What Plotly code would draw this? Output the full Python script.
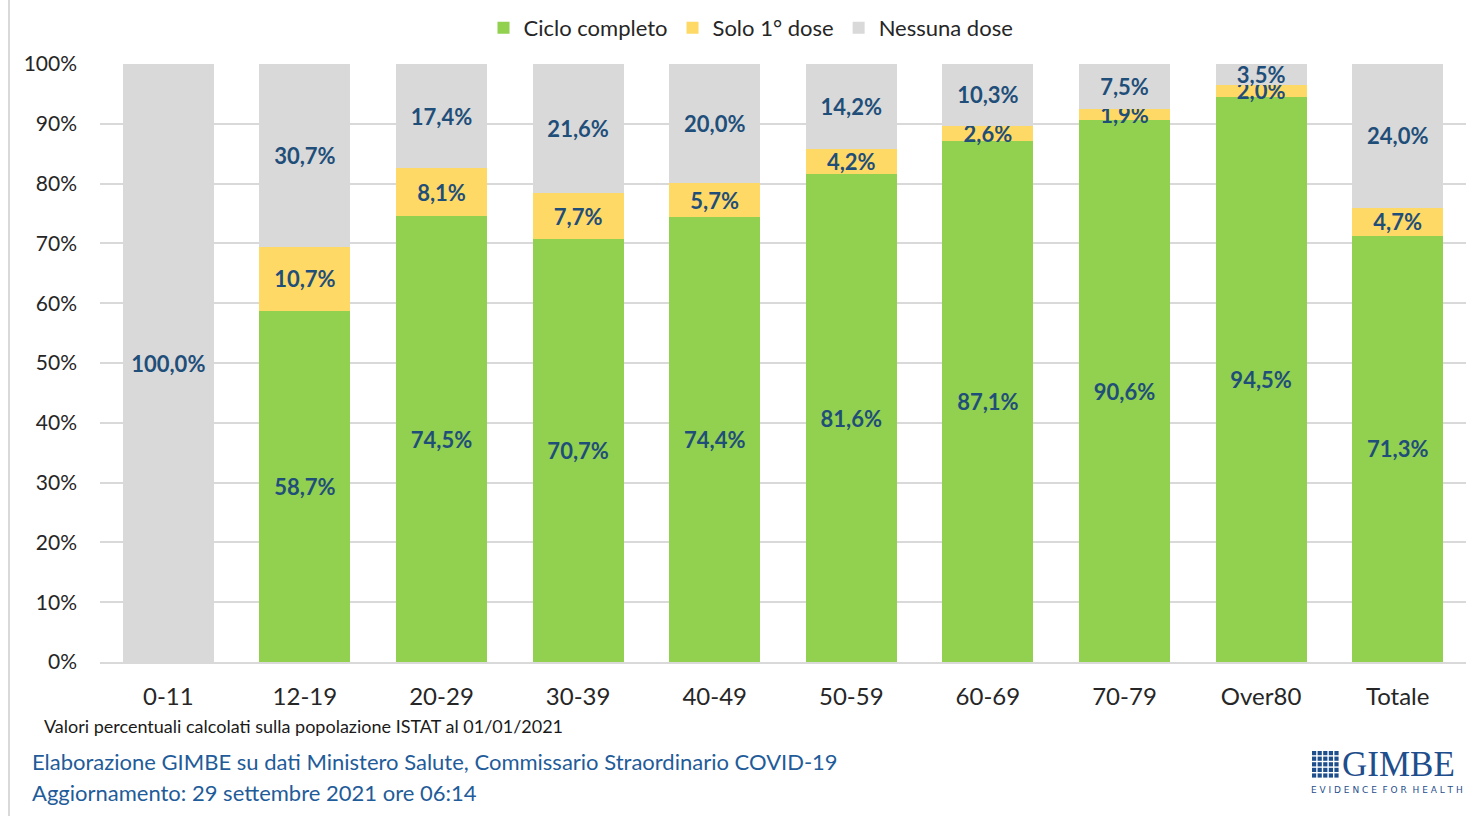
import plotly.graph_objects as go

categories = ["0-11", "12-19", "20-29", "30-39", "40-49", "50-59", "60-69", "70-79", "Over80", "Totale"]
ciclo_completo = [0, 58.7, 74.5, 70.7, 74.4, 81.6, 87.1, 90.6, 94.5, 71.3]
solo_prima = [0, 10.7, 8.1, 7.7, 5.7, 4.2, 2.6, 1.9, 2.0, 4.7]
nessuna_dose = [100.0, 30.7, 17.4, 21.6, 20.0, 14.2, 10.3, 7.5, 3.5, 24.0]
y_ticks = [0, 10, 20, 30, 40, 50, 60, 70, 80, 90, 100]

FONT = "Lato"
LABEL_COLOR = "#1F4E79"

def fmt(v):
    return "" if v == 0 else f"{v:.1f}%".replace(".", ",")

fig = go.Figure()
series = [
    ("Ciclo completo", ciclo_completo, "#92D050"),
    ("Solo 1° dose", solo_prima, "#FFD966"),
    ("Nessuna dose", nessuna_dose, "#D9D9D9"),
]
for name, vals, col in series:
    fig.add_trace(go.Bar(
        x=categories, y=vals, name=name,
        marker=dict(color=col, line=dict(width=0)),
        text=[fmt(v) for v in vals],
        textposition="inside", insidetextanchor="middle", textangle=0,
        textfont=dict(family=FONT, size=22, color=LABEL_COLOR, weight="bold"),
        hoverinfo="skip",
    ))

fig.update_layout(
    barmode="stack", bargap=0.333,
    width=1474, height=816,
    margin=dict(l=100, r=8, t=64, b=154, autoexpand=False),
    paper_bgcolor="white", plot_bgcolor="white",
    font=dict(family=FONT, size=20, color="#262626"),
    uniformtext=dict(minsize=22, mode="show"),
    legend=dict(orientation="h", x=0.5 + 14 / 1474, xref="container", xanchor="center",
                y=1 - 28 / 816, yref="container", yanchor="middle",
                font=dict(size=22, color="#262626"), traceorder="normal",
                itemwidth=30),
    showlegend=True,
)
fig.update_yaxes(range=[0, 100], tickvals=y_ticks, ticktext=[f"{t}%" for t in y_ticks],
                 showgrid=True, gridcolor="#D9D9D9", gridwidth=2, zeroline=False,
                 ticks="", ticklen=0, tickfont=dict(size=21, color="#262626"), ticklabelstandoff=22)
fig.update_xaxes(showline=True, linecolor="#D9D9D9", linewidth=2, ticks="",
                 tickfont=dict(size=24, color="#262626"), ticklabelstandoff=12)

# left border line
fig.add_shape(type="line", xref="paper", yref="paper", x0=(9 - 100) / 1366, x1=(9 - 100) / 1366,
              y0=(662 - 816) / 598, y1=(662 - 0) / 598,
              line=dict(color="#D9D9D9", width=2))

notes = [
    ("Valori percentuali calcolati sulla popolazione ISTAT al 01/01/2021", 42, 726, 18, "#1a1a1a"),
    ("Elaborazione GIMBE su dati Ministero Salute, Commissario Straordinario COVID-19", 30, 762, 22, "#1F5C99"),
    ("Aggiornamento: 29 settembre 2021 ore 06:14", 30, 792, 22, "#1F5C99"),
]
for txt, px, py, sz, col in notes:
    fig.add_annotation(text=txt, xref="paper", yref="paper",
                       x=(px - 100) / 1366, y=(662 - py) / 598,
                       xanchor="left", yanchor="middle", showarrow=False,
                       font=dict(family=FONT, size=sz, color=col))

# GIMBE logo
logo_col = "#1F4E8C"
fig.add_annotation(text="GIMBE", xref="paper", yref="paper",
                   x=(1341 - 100) / 1366, y=(662 - 764) / 598, xanchor="left", yanchor="middle",
                   showarrow=False, borderpad=0,
                   font=dict(family="Liberation Serif", size=35, color=logo_col))
fig.add_annotation(text="E V I D E N C E &nbsp;F O R &nbsp;H E A L T H", xref="paper", yref="paper",
                   x=(1310 - 100) / 1366, y=(662 - 790) / 598, xanchor="left", yanchor="middle",
                   showarrow=False, borderpad=0,
                   font=dict(family="DejaVu Sans", size=9, color=logo_col))
for i in range(5):
    for j in range(5):
        x0 = 1312 + i * 5.6
        y0 = 751 + j * 5.6
        fig.add_shape(type="rect", xref="paper", yref="paper",
                      x0=(x0 - 100) / 1366, x1=(x0 + 4.2 - 100) / 1366,
                      y0=(662 - y0) / 598, y1=(662 - y0 - 4.2) / 598,
                      line=dict(width=0), fillcolor=logo_col)

fig.write_html("out.html", config={"displayModeBar": False},
               post_script="document.body.style.margin='0';document.body.style.overflow='hidden';")
